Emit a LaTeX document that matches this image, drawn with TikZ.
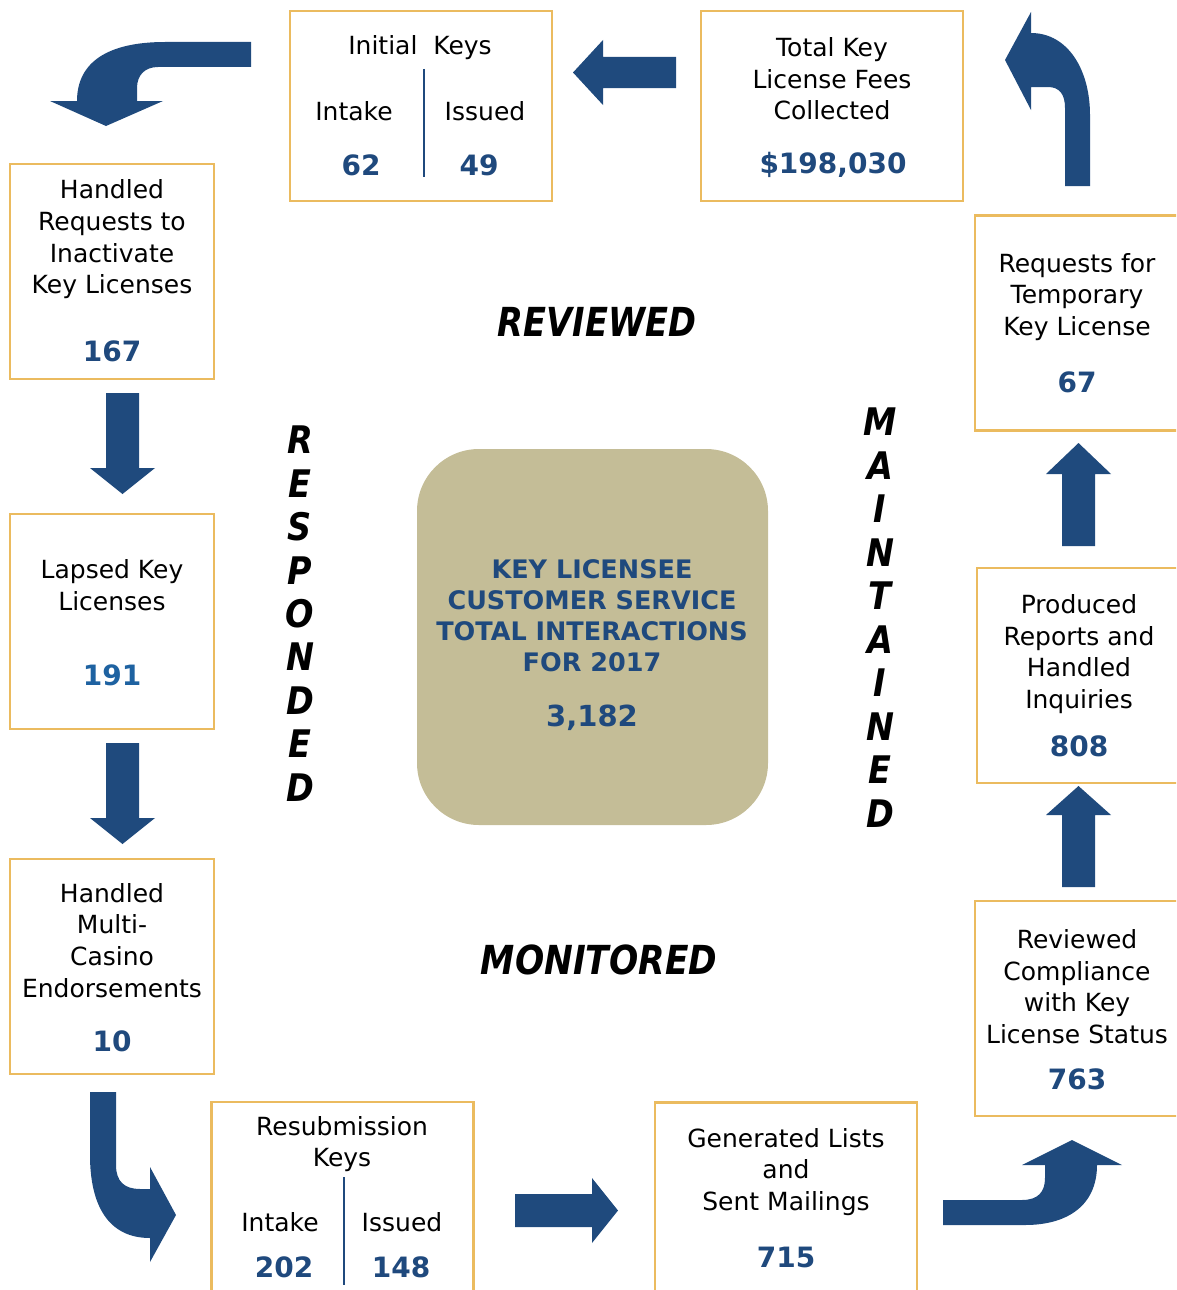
\documentclass[tikz,border=0pt]{standalone}
\usepackage{fontspec}
\usepackage{graphicx}
\setmainfont{DejaVu Sans}
\definecolor{arrowblue}{HTML}{1F4A7D}
\definecolor{numblue}{HTML}{1F497D}
\definecolor{brightblue}{HTML}{1E62A1}
\definecolor{goldline}{HTML}{EBBB5F}
\definecolor{tanfill}{HTML}{C4BD97}
\tikzset{
  infobox/.style={draw=goldline, line width=2.5pt, fill=white, rectangle, inner sep=0pt},
  sidebox/.style={infobox, minimum width=204pt, minimum height=215pt},
  widebox/.style={infobox, minimum width=262pt, minimum height=190pt},
  lowbox/.style={infobox, minimum width=262pt, minimum height=218pt},
  label/.style={align=center, inner sep=0pt, font=\fontsize{25}{31.6}\selectfont, text=black},
  num/.style={inner sep=0pt, font=\fontsize{28}{30}\selectfont\bfseries, text=numblue},
  centertext/.style={align=center, inner sep=0pt, font=\fontsize{25.5}{31}\selectfont\bfseries, text=numblue},
  bigword/.style={inner sep=0pt, font=\fontsize{40}{44}\selectfont\bfseries\itshape},
  letter/.style={inner sep=0pt, font=\fontsize{38}{40}\selectfont\bfseries\itshape},
  blockarrow/.style={fill=arrowblue, draw=none},
  divider/.style={draw=numblue, line width=2pt}
}
\begin{document}
\begin{tikzpicture}[x=1pt,y=-1pt]
\useasboundingbox (0,0) rectangle (1176,1290);
\clip (0,0) rectangle (1176,1290);

% ---------- boxes ----------
\node[widebox] (init) at (421,106) {};
\node[widebox] (total) at (832,106) {};
\node[sidebox] (inact) at (112,271.5) {};
\node[sidebox] (lapsed) at (112,621.5) {};
\node[sidebox] (multi) at (112,966.5) {};
\node[lowbox] (resub) at (342.5,1211) {};
\node[lowbox] (gen) at (786,1211.5) {};
\node[sidebox] (temp) at (1077,323) {};
\node[sidebox] (prod) at (1079,675.5) {};
\node[sidebox] (comp) at (1077,1008.5) {};
\node[fill=tanfill, rounded corners=62pt, minimum width=351pt, minimum height=376pt, inner sep=0pt] (center) at (592.5,637) {};

% ---------- texts ----------
% Initial keys
\node[label] (initT) at (420,48) {Initial\ \ Keys};
\node[label] (initI) at (354,111) {Intake};
\node[label] (initS) at (485,111) {Issued};
\node[num] (initN1) at (361,165) {62};
\node[num] (initN2) at (479,165) {49};
\coordinate (initA) at (424,69);
\coordinate (initB) at (424,177);
\draw[divider] (initA) -- (initB);

% Total fees
\node[label] (totalT) at (832,79) {Total Key\\License Fees\\Collected};
\node[num] (totalN) at (833,165) {\$198,030};

% Inactivate
\node[label] (inactT) at (112,239.5) {Handled\\Requests to\\Inactivate\\Key Licenses};
\node[num] (inactN) at (112,351) {167};

% Lapsed
\node[label] (lapsedT) at (112,585) {Lapsed Key\\Licenses};
\node[num, text=brightblue] (lapsedN) at (112,675) {191};

% Multi-casino
\node[label] (multiT) at (112,940.3) {Handled\\Multi-\\Casino\\Endorsements};
\node[num] (multiN) at (112,1041) {10};

% Resubmission
\node[label] (resubT) at (342,1144) {Resubmission\\Keys};
\node[label] (resubI) at (280,1222) {Intake};
\node[label] (resubS) at (402,1222) {Issued};
\node[num] (resubN1) at (284,1267) {202};
\node[num] (resubN2) at (401,1267) {148};
\coordinate (resubA) at (344,1177);
\coordinate (resubB) at (344,1285);
\draw[divider] (resubA) -- (resubB);

% Generated lists
\node[label] (genT) at (786,1171.7) {Generated Lists\\and\\Sent Mailings};
\node[num] (genN) at (786,1257) {715};

% Temporary
\node[label] (tempT) at (1077,296.7) {Requests for\\Temporary\\Key License};
\node[num] (tempN) at (1077,382) {67};

% Produced
\node[label] (prodT) at (1079,654) {Produced\\Reports and\\Handled\\Inquiries};
\node[num] (prodN) at (1079,746) {808};

% Compliance
\node[label] (compT) at (1077,986.5) {Reviewed\\Compliance\\with Key\\License Status};
\node[num] (compN) at (1077,1079) {763};

% Center
\node[centertext] (centerT) at (592,615.5) {KEY LICENSEE\\CUSTOMER SERVICE\\TOTAL INTERACTIONS\\FOR 2017};
\node[num, font=\fontsize{29}{31}\selectfont\bfseries] (centerN) at (592,718) {3,182};

% Big words
\node[bigword] (reviewed) at (597,322) {\scalebox{0.84}[1]{REVIEWED}};
\node[bigword] (monitored) at (599,960) {\scalebox{0.86}[1]{MONITORED}};

\foreach \L [count=\i from 0] in {R,E,S,P,O,N,D,E,D}
  \node[letter] (resp\i) at (300,440+\i*43.4) {\scalebox{0.88}[1]{\L}};
\foreach \L [count=\i from 0] in {M,A,I,N,T,A,I,N,E,D}
  \node[letter] (maint\i) at (880,422+\i*43.5) {\scalebox{0.88}[1]{\L}};

% ---------- straight block arrows ----------
\fill[blockarrow] (106,393) -- (139,393) -- (139,468) -- (155,468) -- (122.5,494) -- (90,468) -- (106,468) -- cycle;
\fill[blockarrow] (106,743) -- (139,743) -- (139,818) -- (155,818) -- (122.5,844) -- (90,818) -- (106,818) -- cycle;
\fill[blockarrow] (1062,546) -- (1095,546) -- (1095,474) -- (1111,474) -- (1078.5,443) -- (1046,474) -- (1062,474) -- cycle;
\fill[blockarrow] (1062,887) -- (1095,887) -- (1095,815) -- (1111,815) -- (1078.5,786) -- (1046,815) -- (1062,815) -- cycle;
\fill[blockarrow] (676,57) -- (676,88) -- (603,88) -- (603,105) -- (573,72.5) -- (603,40) -- (603,57) -- cycle;
\fill[blockarrow] (515,1194) -- (515,1227) -- (592,1227) -- (592,1243) -- (618,1210.5) -- (592,1178) -- (592,1194) -- cycle;

% ---------- curved block arrows ----------
% top left
\fill[blockarrow] (251,42) -- (165,42) .. controls (108,42) and (77,62) .. (77,101)
  -- (50,101) -- (106,126) -- (163,101) -- (137,101) -- (137,88)
  .. controls (137,75) and (145,67) .. (158,67) -- (251,67) -- cycle;
% top right
\fill[blockarrow] (1065,186) -- (1090,186) -- (1090,115)
  .. controls (1090,70) and (1068,33) .. (1031,33)
  -- (1031,12) -- (1005,60) -- (1031,110) -- (1031,87) -- (1048,87)
  .. controls (1060,87) and (1065,95) .. (1065,108) -- cycle;
% bottom left
\fill[blockarrow] (90,1092) -- (116,1092) -- (116,1165)
  .. controls (116,1182) and (125,1189) .. (140,1189)
  -- (150,1189) -- (150,1167) -- (176,1215) -- (150,1262) -- (150,1238)
  .. controls (108,1238) and (90,1205) .. (90,1155) -- cycle;
% bottom right
\fill[blockarrow] (943,1200) -- (1022,1200)
  .. controls (1038,1200) and (1045,1192) .. (1045,1178)
  -- (1045,1165) -- (1022,1165) -- (1072,1140) -- (1122,1165) -- (1097,1165)
  .. controls (1097,1205) and (1068,1225) .. (1025,1225) -- (943,1225) -- cycle;
\end{tikzpicture}
\end{document}
